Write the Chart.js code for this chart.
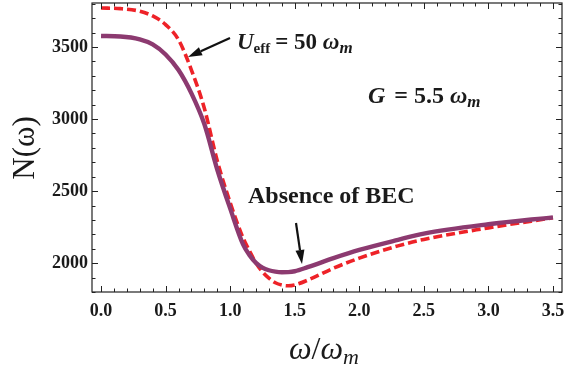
<!DOCTYPE html>
<html><head><meta charset="utf-8">
<script src="https://cdn.jsdelivr.net/npm/chart.js@4.4.1/dist/chart.umd.min.js"></script>
<style>html,body{margin:0;padding:0;background:#fff}#wrap{width:564px;height:371px}</style>
</head><body><div id="wrap"><canvas id="c" width="564" height="371"></canvas></div>
<script>
const omega = [0, 0.15, 0.3, 0.4, 0.5, 0.6, 0.7, 0.8, 0.9, 1.0, 1.1, 1.15, 1.2, 1.25, 1.3, 1.35, 1.4, 1.45, 1.5, 1.6, 1.8, 2.0, 2.3, 2.5, 3.0, 3.5];
const nWithG = [3576, 3573, 3553, 3518, 3448, 3340, 3178, 2965, 2650, 2380, 2130, 2055, 2002, 1969, 1951, 1941, 1937, 1938, 1944, 1972, 2035, 2092, 2162, 2205, 2270, 2318];
const nUeff = [3770, 3766, 3748, 3715, 3655, 3550, 3340, 3075, 2710, 2420, 2175, 2085, 2000, 1940, 1896, 1864, 1848, 1843, 1849, 1882, 1965, 2035, 2120, 2165, 2245, 2315];
const xTicks = [0, 0.5, 1.0, 1.5, 2.0, 2.5, 3.0, 3.5];
const yTicks = [2000, 2500, 3000, 3500];

const SERIF = '"Liberation Serif", "DejaVu Serif", serif';
const toXY = (xs, ys) => xs.map((x, i) => ({x, y: ys[i]}));

function drawRuns(ctx, x, y, runs) {
  let cx = x;
  for (const r of runs) {
    ctx.font = r.font;
    ctx.fillText(r.t, cx, y + (r.dy || 0));
    cx += ctx.measureText(r.t).width + (r.gap || 0);
  }
}
function arrow(ctx, x1, y1, x2, y2) {
  const ang = Math.atan2(y2 - y1, x2 - x1);
  const hl = 14, hw = 4.5;
  const bx = x2 - hl * Math.cos(ang), by = y2 - hl * Math.sin(ang);
  ctx.strokeStyle = '#111'; ctx.lineWidth = 2.2;
  ctx.beginPath(); ctx.moveTo(x1, y1); ctx.lineTo(bx, by); ctx.stroke();
  ctx.fillStyle = '#111';
  ctx.beginPath();
  ctx.moveTo(x2, y2);
  ctx.lineTo(bx + hw * Math.sin(ang), by - hw * Math.cos(ang));
  ctx.lineTo(bx - hw * Math.sin(ang), by + hw * Math.cos(ang));
  ctx.closePath(); ctx.fill();
}

const framePlugin = {
  id: 'frame',
  afterDraw(chart) {
    const ctx = chart.ctx, a = chart.chartArea;
    const xs = chart.scales.x, ys = chart.scales.y;
    ctx.save();
    ctx.strokeStyle = '#222'; ctx.lineWidth = 1.2;
    ctx.strokeRect(a.left, a.top, a.right - a.left, a.bottom - a.top);
    ctx.lineWidth = 1;
    ctx.beginPath();
    for (let i = 0; i <= 35; i++) {
      const v = i / 10; const px = Math.round(xs.getPixelForValue(v)) + 0.5;
      const len = (i % 5 === 0) ? 6 : 3.5;
      ctx.moveTo(px, a.bottom); ctx.lineTo(px, a.bottom - len);
      ctx.moveTo(px, a.top); ctx.lineTo(px, a.top + len);
    }
    for (let v = 1800; v <= 3800; v += 100) {
      const py = Math.round(ys.getPixelForValue(v)) + 0.5;
      const len = (v % 500 === 0) ? 6 : 3.5;
      ctx.moveTo(a.left, py); ctx.lineTo(a.left + len, py);
      ctx.moveTo(a.right, py); ctx.lineTo(a.right - len, py);
    }
    ctx.stroke();

    ctx.fillStyle = '#1a1a1a';
    ctx.textBaseline = 'alphabetic';
    // y title
    ctx.save();
    ctx.translate(34, 148);
    ctx.rotate(-Math.PI / 2);
    ctx.textAlign = 'center';
    ctx.font = '31px ' + SERIF;
    ctx.fillText('N(ω)', 0, 0);
    ctx.restore();
    // x title
    ctx.textAlign = 'left';
    drawRuns(ctx, 289, 359, [
      {t: 'ω', font: 'italic 32px ' + SERIF},
      {t: '/', font: '32px ' + SERIF},
      {t: 'ω', font: 'italic 32px ' + SERIF},
      {t: 'm', font: 'italic 22px ' + SERIF, dy: 5}
    ]);
    // annotations
    drawRuns(ctx, 237, 49, [
      {t: 'U', font: 'italic bold 23px ' + SERIF},
      {t: 'eff', font: 'bold 15px ' + SERIF, dy: 4, gap: 5},
      {t: '= 50 ', font: 'bold 23px ' + SERIF},
      {t: 'ω', font: 'italic bold 23px ' + SERIF},
      {t: 'm', font: 'italic bold 17px ' + SERIF, dy: 4}
    ]);
    drawRuns(ctx, 368, 103, [
      {t: 'G', font: 'italic bold 24px ' + SERIF, gap: 3},
      {t: ' = 5.5 ', font: 'bold 24px ' + SERIF},
      {t: 'ω', font: 'italic bold 24px ' + SERIF},
      {t: 'm', font: 'italic bold 17px ' + SERIF, dy: 4}
    ]);
    drawRuns(ctx, 248, 203, [
      {t: 'Absence of BEC', font: 'bold 24px ' + SERIF}
    ]);
    arrow(ctx, 230, 38, 188, 57);
    arrow(ctx, 296, 223, 302, 264);
    ctx.restore();
  }
};

new Chart(document.getElementById('c'), {
  type: 'line',
  data: {
    datasets: [
      {data: toXY(omega, nWithG), borderColor: '#8c3a70', borderWidth: 4.4, pointRadius: 0, cubicInterpolationMode: 'monotone', fill: false},
      {data: toXY(omega, nUeff), borderColor: '#ee2228', borderWidth: 3.6, borderDash: [9, 4], pointRadius: 0, cubicInterpolationMode: 'monotone', fill: false}
    ]
  },
  options: {
    responsive: false, animation: false, devicePixelRatio: 1,
    layout: {padding: {top: 3, right: 2, left: 0, bottom: 0}},
    plugins: {legend: {display: false}, tooltip: {enabled: false}},
    scales: {
      x: {
        type: 'linear', min: -0.07, max: 3.57,
        afterBuildTicks: s => { s.ticks = xTicks.map(v => ({value: v})); },
        afterFit: s => { s.height = 79; s.paddingLeft = 0; s.paddingRight = 0; },
        grid: {display: false, drawTicks: false}, border: {display: false},
        ticks: {padding: 9, color: '#1a1a1a', font: {family: SERIF, size: 18, weight: 'bold'},
          callback: v => v.toFixed(1), maxRotation: 0, autoSkip: false}
      },
      y: {
        type: 'linear', min: 1800, max: 3805,
        afterBuildTicks: s => { s.ticks = yTicks.map(v => ({value: v})); },
        afterFit: s => { s.width = 92; s.paddingTop = 0; s.paddingBottom = 0; },
        grid: {display: false, drawTicks: false}, border: {display: false},
        ticks: {padding: 4, color: '#1a1a1a', font: {family: SERIF, size: 18, weight: 'bold'},
          callback: v => String(v)}
      }
    }
  },
  plugins: [framePlugin]
});
</script></body></html>
